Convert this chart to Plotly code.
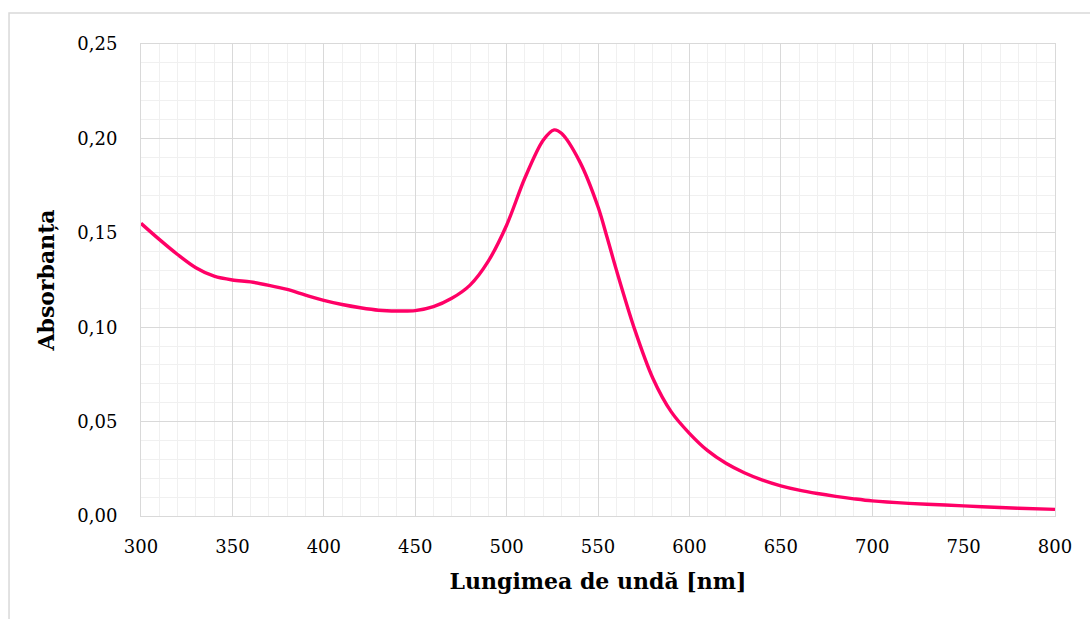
import plotly.graph_objects as go

wavelength = [300, 310, 320, 330, 340, 350, 360, 370, 380, 390, 400, 410, 420, 430, 440, 450,
              460, 470, 480, 490, 500, 510, 520, 526, 530, 540, 550, 555, 560, 570, 580, 590, 600,
              610, 620, 630, 640, 650, 660, 670, 680, 690, 700, 720, 740, 760, 780, 800]
absorbance = [0.155, 0.1465, 0.1385, 0.1315, 0.127, 0.125, 0.124, 0.1222, 0.120, 0.117, 0.1142,
              0.112, 0.1103, 0.109, 0.1086, 0.1088, 0.1109, 0.1153, 0.1223, 0.135, 0.154, 0.179,
              0.199, 0.2045, 0.2027, 0.1877, 0.1638, 0.1475, 0.1305, 0.099, 0.073, 0.0553, 0.0438,
              0.0346, 0.0279, 0.0229, 0.019, 0.0160, 0.0137, 0.0119, 0.0104, 0.0091, 0.0080,
              0.0067, 0.0058, 0.0049, 0.0041, 0.0035]

x_title = "Lungimea de undă [nm]"
y_title = "Absorbanța"

font_family = "DejaVu Serif, Liberation Serif, serif"

fig = go.Figure()
fig.add_trace(go.Scatter(x=wavelength, y=absorbance, mode="lines",
                         line=dict(color="#FF0066", width=3.4, shape="spline", smoothing=0.9),
                         showlegend=False))

fig.update_layout(
    width=1090, height=619,
    margin=dict(l=141, r=35, t=44, b=103),
    paper_bgcolor="white", plot_bgcolor="white",
    separators=",.",
    font=dict(family=font_family, size=18, color="#000000"),
    shapes=[dict(type="rect", xref="paper", yref="paper",
                 x0=-0.1444, y0=-0.5, x1=1.5, y1=1.0657,
                 line=dict(color="#d9d9d9", width=1.5), fillcolor="rgba(0,0,0,0)",
                 layer="below")],
)
fig.update_xaxes(
    range=[300, 800], dtick=50, tick0=300,
    showgrid=True, gridcolor="#d9d9d9", gridwidth=1,
    minor=dict(dtick=10, showgrid=True, gridcolor="#f0f0f0", gridwidth=1),
    showline=True, linecolor="#d9d9d9", mirror=True,
    zeroline=False, ticks="", ticklabelstandoff=14,
    tickfont=dict(size=18),
    title=dict(text=f"<b>{x_title}</b>", font=dict(size=22), standoff=18),
)
fig.update_yaxes(
    range=[0, 0.25], dtick=0.05, tickformat=".2f",
    showgrid=True, gridcolor="#d9d9d9", gridwidth=1,
    minor=dict(dtick=0.01, showgrid=True, gridcolor="#f0f0f0", gridwidth=1),
    showline=True, linecolor="#d9d9d9", mirror=True,
    zeroline=False, ticks="", ticklabelstandoff=19,
    tickfont=dict(size=18),
    title=dict(text=f"<b>{y_title}</b>", font=dict(size=22), standoff=16),
)

fig.write_html("out.html")
